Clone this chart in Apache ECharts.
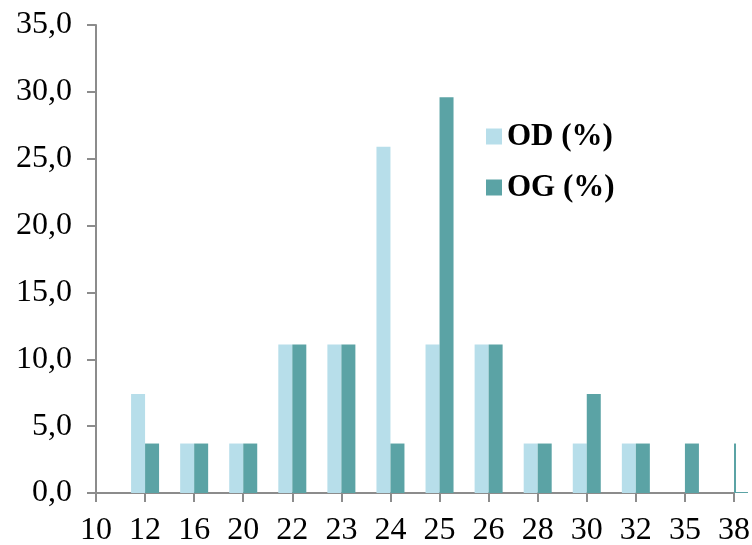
<!DOCTYPE html>
<html>
<head>
<meta charset="utf-8">
<script src="https://cdn.jsdelivr.net/npm/echarts@6/dist/echarts.min.js"></script>
<style>
html,body{margin:0;padding:0;background:#fff;}
#chart{width:752px;height:545px;}
</style>
</head>
<body>
<div id="chart"></div>
<script>
var categories = ['10','12','16','20','22','23','24','25','26','28','30','32','35','38'];
var odValues = [0, 7.4, 3.7, 3.7, 11.1, 11.1, 25.9, 11.1, 11.1, 3.7, 3.7, 3.7, 0, 0];
var ogValues = [0, 3.7, 3.7, 3.7, 11.1, 11.1, 3.7, 29.6, 11.1, 3.7, 7.4, 3.7, 3.7, 3.7];
var seriesNames = ['OD (%)', 'OG (%)'];

var chart = echarts.init(document.getElementById('chart'), null, {renderer: 'canvas'});
var font = 'Liberation Serif';
chart.setOption({
  animation: false,
  backgroundColor: '#ffffff',
  grid: {left: 96, right: 18, top: 25, bottom: 52, containLabel: false, outerBoundsMode: 'none'},
  legend: {
    orient: 'vertical',
    left: 481,
    top: 116,
    itemWidth: 16,
    itemHeight: 16,
    itemGap: 20,
    icon: 'rect',
    textStyle: {fontFamily: font, fontSize: 31, fontWeight: 'bold', color: '#000'},
    data: seriesNames
  },
  xAxis: {
    type: 'category',
    data: categories,
    boundaryGap: false,
    axisLine: {lineStyle: {color: '#8c8c8c', width: 2}},
    axisTick: {show: true, length: 9, inside: false, alignWithLabel: true, lineStyle: {color: '#8c8c8c', width: 2}},
    axisLabel: {fontFamily: font, fontSize: 32, color: '#000', margin: 22, interval: 0, showMaxLabel: true, showMinLabel: true},
    splitLine: {show: false}
  },
  yAxis: {
    type: 'value',
    min: 0,
    max: 35,
    interval: 5,
    axisLine: {show: true, lineStyle: {color: '#8c8c8c', width: 2}},
    axisTick: {show: true, length: 9, lineStyle: {color: '#8c8c8c', width: 2}},
    axisLabel: {fontFamily: font, fontSize: 32, color: '#000', margin: 24,
      formatter: function (v) { return v.toFixed(1).replace('.', ','); }},
    splitLine: {show: false}
  },
  series: [
    {name: seriesNames[0], type: 'bar', data: odValues, barWidth: 14, barGap: '0%', z: 2,
     itemStyle: {color: '#B7DEEA'}},
    {name: seriesNames[1], type: 'bar', data: ogValues, barWidth: 14, barGap: '0%', z: 2,
     itemStyle: {color: '#5BA3A5'}}
  ]
});

// Mask the overflow to the right of the plot area (the plot clips the last bar there)
var lastX = chart.convertToPixel({xAxisIndex: 0}, categories[categories.length - 1]);
var topY = chart.convertToPixel({yAxisIndex: 0}, 35);
var zeroY = chart.convertToPixel({yAxisIndex: 0}, 0);
chart.setOption({
  graphic: [{
    type: 'rect',
    shape: {x: lastX + 2, y: topY - 5, width: 752 - lastX, height: zeroY - topY + 4},
    style: {fill: '#ffffff'},
    z: 50
  }]
});
</script>
</body>
</html>
